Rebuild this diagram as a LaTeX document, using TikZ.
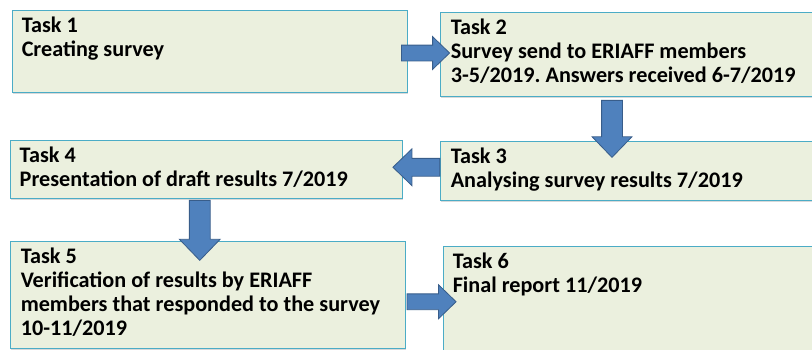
\documentclass[tikz,border=0pt]{standalone}
\usepackage{fontspec}
\setmainfont{Carlito}
\usetikzlibrary{positioning,shapes.arrows,shadows,calc}
\definecolor{boxfill}{HTML}{EBF0DE}
\definecolor{boxline}{HTML}{4BACC6}
\definecolor{arrfill}{HTML}{4F81BD}
\definecolor{arrline}{HTML}{385D8A}
\frenchspacing

\begin{document}
\begin{tikzpicture}[
  x=1pt, y=1pt,
  box/.style={draw=boxline, fill=boxfill, line width=0.9pt, inner sep=0pt,
    drop shadow={shadow xshift=1pt, shadow yshift=-2pt, opacity=0.3}},
  lbl/.style={align=left, inner sep=0pt, font=\bfseries\fontsize{22.2}{24}\selectfont},
  blk/.style={single arrow, draw=arrline, fill=arrfill, line width=0.8pt, inner sep=0pt,
    text width=0pt, single arrow tip angle=88}
]
\clip (0,0) rectangle (812,-349);

% task boxes
\node[box, minimum width=395pt, minimum height=82pt] (t1) at (209.5,-51) {};
\node[box, minimum width=380pt, minimum height=84pt] (t2) at (630,-54) {};
\node[box, minimum width=380pt, minimum height=59pt] (t3) at (630,-170.5) {};
\node[box, minimum width=392pt, minimum height=58pt] (t4) at (206,-169) {};
\node[box, minimum width=395pt, minimum height=107pt] (t5) at (207.5,-294.5) {};
\node[box, minimum width=377pt, minimum height=114pt] (t6) at (631.5,-303) {};

\node[lbl, below right=7pt and 10pt of t1.north west] (l1) {Task 1\\Creating survey};
\node[lbl, below right=7pt and 11pt of t2.north west] (l2) {Task 2\\Survey send to ERIAFF members\\3-5/2019. Answers received 6-7/2019};
\node[lbl, below right=7pt and 11pt of t3.north west] (l3) {Task 3\\Analysing survey results 7/2019};
\node[lbl, below right=7pt and 10pt of t4.north west] (l4) {Task 4\\Presentation of draft results 7/2019};
\node[lbl, below right=7pt and 11pt of t5.north west] (l5) {Task 5\\Verification of results by ERIAFF\\members that responded to the survey\\10-11/2019};
\node[lbl, below right=7pt and 10pt of t6.north west] (l6) {Task 6\\Final report 11/2019};

% block arrows
\node[blk, minimum height=48pt, text height=7.5pt, text depth=7.5pt, single arrow head extend=8.5pt]
  (a12) at ($(t1.east)!0.5!(t2.west)+(-2,-0.5)$) {};
\node[blk, minimum height=57pt, text height=10pt, text depth=10pt, single arrow head extend=9.5pt, rotate=-90]
  (a23) at ($(t2.south)!0.5!(t3.north)+(-18,-5)$) {};
\node[blk, minimum height=47pt, text height=8.5pt, text depth=8.5pt, single arrow head extend=9.5pt, rotate=180]
  (a34) at ($(t3.west)!0.5!(t4.east)+(0,2.5)$) {};
\node[blk, minimum height=60pt, text height=10pt, text depth=10pt, single arrow head extend=10pt, rotate=-90]
  (a45) at ($(t4.south)!0.5!(t5.north)+(-7,-5.5)$) {};
\node[blk, minimum height=49pt, text height=7.5pt, text depth=7.5pt, single arrow head extend=9pt]
  (a56) at ($(t5.east)!0.5!(t6.west)+(3.5,-3)$) {};
\end{tikzpicture}
\end{document}
